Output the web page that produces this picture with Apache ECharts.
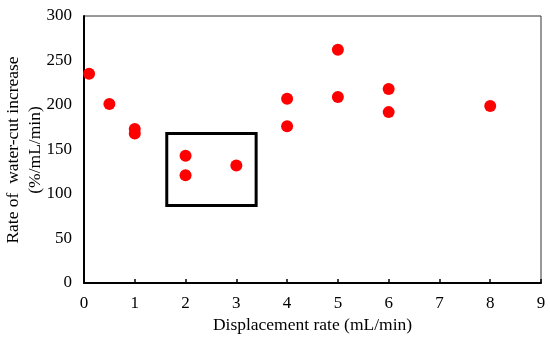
<!DOCTYPE html>
<html>
<head>
<meta charset="utf-8">
<script src="https://cdn.jsdelivr.net/npm/echarts@6/dist/echarts.min.js"></script>
<style>html,body{margin:0;padding:0;background:#fff;}#c{width:550px;height:340px;}</style>
</head>
<body>
<div id="c"></div>
<script>
var displacementRate = [0.1, 0.5, 1, 1, 2, 2, 3, 4, 4, 5, 5, 6, 6, 8];
var waterCutRate = [235, 201, 173, 168, 143, 121, 132, 207, 176, 262, 209, 218, 192, 199];
var boxX = [1.63, 3.39];
var boxY = [87, 168];
var xTitle = 'Displacement rate (mL/min)';
var yTitle = 'Rate of  water-cut increase\n(%/mL/min)';

var pts = displacementRate.map(function (x, i) { return [x, waterCutRate[i]]; });
var font = 'Liberation Serif';
var chart = echarts.init(document.getElementById('c'));
chart.setOption({
  animation: false,
  textStyle: { fontFamily: font },
  grid: { left: 84, right: 9, top: 16, bottom: 57, containLabel: false, outerBoundsMode: 'none', show: true, borderColor: '#333', borderWidth: 1, backgroundColor: 'transparent' },
  graphic: [{
    type: 'text',
    x: 24, y: 150,
    rotation: Math.PI / 2,
    style: {
      text: yTitle,
      fontFamily: font, fontSize: 17.5, lineHeight: 22,
      fill: '#000',
      textAlign: 'center', textVerticalAlign: 'middle', verticalAlign: 'middle', align: 'center'
    }
  }],
  xAxis: {
    type: 'value', min: 0, max: 9, interval: 1,
    name: xTitle, nameLocation: 'middle', nameGap: 31,
    nameTextStyle: { fontFamily: font, fontSize: 17.5, color: '#000' },
    axisLine: { show: true, lineStyle: { color: '#000', width: 2 } },
    axisTick: { show: true, inside: true, length: 4, lineStyle: { color: '#000', width: 1.5 } },
    axisLabel: { fontFamily: font, fontSize: 17, color: '#000', margin: 12 },
    splitLine: { show: false }
  },
  yAxis: {
    type: 'value', min: 0, max: 300, interval: 50,
    axisLine: { show: true, lineStyle: { color: '#000', width: 2 } },
    axisTick: { show: false },
    axisLabel: { fontFamily: font, fontSize: 17, color: '#000', margin: 12 },
    splitLine: { show: false }
  },
  series: [{
    type: 'scatter',
    data: pts,
    symbol: 'circle',
    symbolSize: 12,
    itemStyle: { color: '#ff0000', opacity: 1 },
    markArea: {
      silent: true,
      itemStyle: { color: 'rgba(0,0,0,0)', borderColor: '#000', borderWidth: 3 },
      data: [[{ coord: [boxX[0], boxY[1]] }, { coord: [boxX[1], boxY[0]] }]]
    }
  }]
});
</script>
</body>
</html>
